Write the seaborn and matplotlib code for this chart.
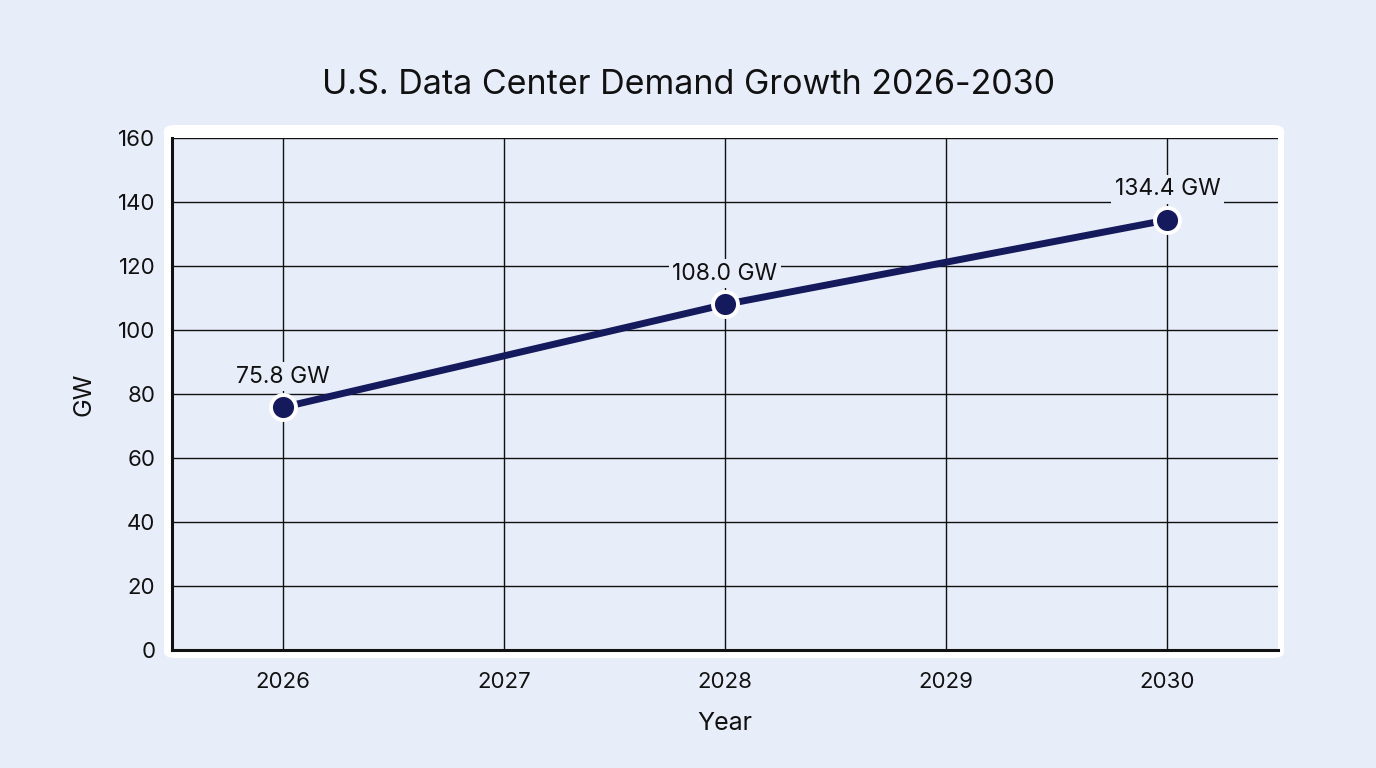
import seaborn as sns
import matplotlib.pyplot as plt
from matplotlib.patches import FancyBboxPatch

# ---- data ----
years = [2026, 2028, 2030]
demand_gw = [75.8, 108.0, 134.4]
point_labels = ['75.8 GW', '108.0 GW', '134.4 GW']
x_ticks = [2026, 2027, 2028, 2029, 2030]
y_ticks = [0, 20, 40, 60, 80, 100, 120, 140, 160]

bg = '#E8EDFA'
navy = '#151A5C'

sns.set_theme(style='white')
plt.rcParams['font.family'] = ['Inter', 'DejaVu Sans']

fig = plt.figure(figsize=(13.76, 7.68), dpi=100, facecolor=bg)
ax = fig.add_axes([172 / 1376, 1 - 650 / 768, (1278 - 172) / 1376, (650 - 138) / 768])
ax.set_facecolor(bg)

# white rounded frame behind the plot area
frame = FancyBboxPatch((164 / 1376, 1 - 658 / 768), (1284 - 164) / 1376, (658 - 125) / 768,
                       boxstyle='round,pad=0,rounding_size=0.008', transform=fig.transFigure,
                       facecolor='white', edgecolor='none', zorder=-1)
fig.patches.append(frame)

sns.lineplot(x=years, y=demand_gw, ax=ax, color=navy, linewidth=5, marker='o',
             markersize=18, markeredgecolor='white', markeredgewidth=2.8, zorder=5)

for x, y, lab in zip(years, demand_gw, point_labels):
    ax.annotate(lab, (x, y), xytext=(0, 22), textcoords='offset points', ha='center',
                va='center', fontsize=16.5, color='#111111', zorder=4,
                bbox=dict(boxstyle='square,pad=0.15', facecolor=bg, edgecolor='none'))

ax.set_xlim(2025.5, 2030.5)
ax.set_ylim(0, 160)
ax.set_xticks(x_ticks)
ax.set_yticks(y_ticks)
ax.grid(True, color='#111111', linewidth=1.0)
ax.set_axisbelow(True)
for side in ['top', 'right']:
    ax.spines[side].set_visible(False)
for side in ['left', 'bottom']:
    ax.spines[side].set_color('#111111')
    ax.spines[side].set_linewidth(2.2)
ax.tick_params(axis='both', labelsize=16, colors='#111111', length=0, pad=12)
ax.tick_params(axis='x', pad=16)

ax.set_xlabel('Year', fontsize=18, color='#111111', labelpad=14)
ax.set_ylabel('GW', fontsize=18, color='#111111', labelpad=16)
fig.suptitle('U.S. Data Center Demand Growth 2026-2030', fontsize=24.5, color='#111111', y=1 - 85 / 768, va='center')

plt.savefig('out.png', dpi=100, facecolor=bg)
